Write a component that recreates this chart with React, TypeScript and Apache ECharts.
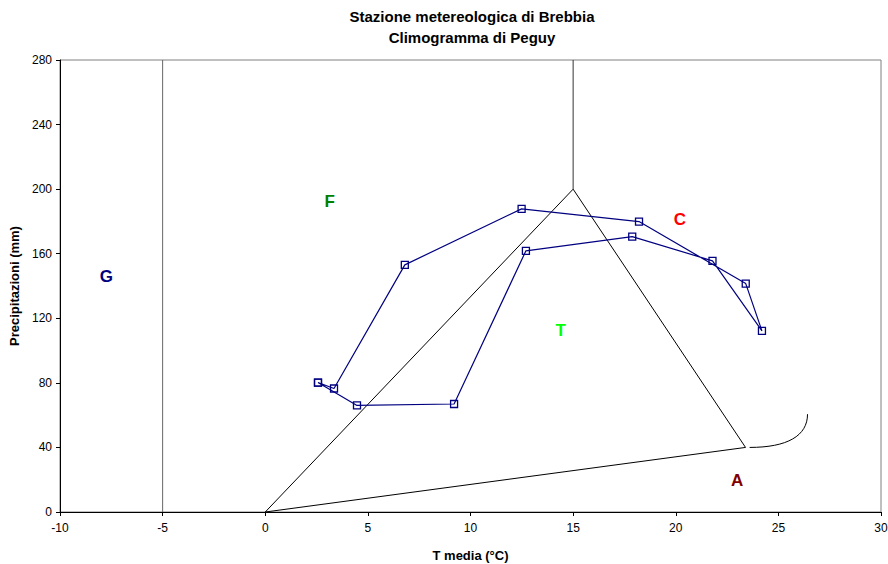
import React, { useEffect, useRef } from "react";
import * as echarts from "echarts";

// Monthly climate normals for Brebbia (Jan..Dec)
const months = ["Gen", "Feb", "Mar", "Apr", "Mag", "Giu", "Lug", "Ago", "Set", "Ott", "Nov", "Dic"];
const tempMedia = [2.57, 4.47, 9.2, 12.7, 17.88, 21.79, 24.2, 23.41, 18.21, 12.49, 6.8, 3.35];
const precipitazioni = [80.2, 66.0, 66.9, 161.8, 170.6, 155.6, 112.2, 141.5, 179.9, 187.8, 153.1, 76.5];

// Peguy triangle vertices (T, P)
const triangleT = [0, 15, 23.4, 0];
const triangleP = [0, 200, 40, 0];

// Boundary lines
const frostLineT = [-5, -5];
const frostLineP = [0, 280];
const hotLineT = [15, 15];
const hotLineP = [200, 280];

// Arid boundary curve: start, control 1, control 2, end
const aridCurveT = [23.6, 25.44, 26.42, 26.42];
const aridCurveP = [40, 40, 47.2, 60.6];

// Zone letters and where they sit in data space
const zoneNames = ["G", "F", "C", "T", "A"];
const zoneT = [-7.74, 3.14, 20.2, 14.4, 22.99];
const zoneP = [145.7, 192.1, 181, 112.2, 19.4];
const zoneColors: Record<string, string> = {
  G: "#000080",
  F: "#008000",
  C: "#ff0000",
  T: "#00ff00",
  A: "#800000",
};

const xTicks = { min: -10, max: 30, interval: 5 };
const yTicks = { min: 0, max: 280, interval: 40 };

const FONT = "'Liberation Sans', Arial, sans-serif";

export default function App() {
  const ref = useRef<HTMLDivElement>(null);

  useEffect(() => {
    if (!ref.current) return;
    const chart = echarts.init(ref.current, null, { renderer: "svg" });

    const loop = tempMedia.map((t, i) => [t, precipitazioni[i]]);
    loop.push(loop[0]);

    const pairs = (xs: number[], ys: number[]) => xs.map((x, i) => [x, ys[i]]);

    const plainLine = (data: number[][], color: string) => ({
      type: "line",
      data,
      symbol: "none",
      silent: true,
      lineStyle: { color, width: 1 },
      z: 2,
    });

    chart.setOption({
      animation: false,
      backgroundColor: "#ffffff",
      textStyle: { fontFamily: FONT },
      title: {
        text: "Stazione metereologica di Brebbia\nClimogramma di Peguy",
        left: 472,
        top: 6,
        padding: 0,
        textAlign: "center",
        textStyle: {
          fontFamily: FONT,
          fontSize: 15,
          fontWeight: "bold",
          color: "#000",
          lineHeight: 21,
        },
      },
      grid: {
        left: 60,
        right: 7,
        top: 60,
        bottom: 52,
        outerBoundsMode: "none",
        containLabel: false,
        show: true,
        borderColor: "#808080",
        borderWidth: 1,
        backgroundColor: "#ffffff",
      },
      xAxis: {
        type: "value",
        min: xTicks.min,
        max: xTicks.max,
        interval: xTicks.interval,
        name: "T media (°C)",
        nameLocation: "middle",
        nameGap: 37,
        nameTextStyle: { fontFamily: FONT, fontSize: 13, fontWeight: "bold", color: "#000" },
        axisLine: { show: true, onZero: false, lineStyle: { color: "#000", width: 1 } },
        axisTick: { show: true, length: 4, lineStyle: { color: "#000" } },
        axisLabel: { fontFamily: FONT, fontSize: 12, color: "#000", margin: 10 },
        splitLine: { show: false },
      },
      yAxis: {
        type: "value",
        min: yTicks.min,
        max: yTicks.max,
        interval: yTicks.interval,
        name: "Precipitazioni (mm)",
        nameLocation: "middle",
        nameGap: 34,
        nameTextStyle: { fontFamily: FONT, fontSize: 13, fontWeight: "bold", color: "#000" },
        axisLine: { show: true, onZero: false, lineStyle: { color: "#000", width: 1 } },
        axisTick: { show: true, length: 4, lineStyle: { color: "#000" } },
        axisLabel: { fontFamily: FONT, fontSize: 12, color: "#000", margin: 8 },
        splitLine: { show: false },
      },
      series: [
        plainLine(pairs(frostLineT, frostLineP), "#666666"),
        plainLine(pairs(hotLineT, hotLineP), "#333333"),
        plainLine(pairs(triangleT, triangleP), "#000000"),
        {
          type: "custom",
          silent: true,
          data: [[aridCurveT[0], aridCurveP[0]]],
          z: 2,
          renderItem: (_params: any, api: any) => {
            const p = aridCurveT.map((t, i) => api.coord([t, aridCurveP[i]]));
            return {
              type: "bezierCurve",
              shape: {
                x1: p[0][0],
                y1: p[0][1],
                cpx1: p[1][0],
                cpy1: p[1][1],
                cpx2: p[2][0],
                cpy2: p[2][1],
                x2: p[3][0],
                y2: p[3][1],
              },
              style: { stroke: "#000000", lineWidth: 1, fill: "none" },
            };
          },
        },
        {
          type: "line",
          name: "Brebbia",
          data: loop,
          symbol: "rect",
          symbolSize: 7,
          showAllSymbol: true,
          lineStyle: { color: "#000080", width: 1.2 },
          itemStyle: { color: "rgba(255,255,255,0)", borderColor: "#000080", borderWidth: 1.3 },
          z: 3,
        },
        {
          type: "scatter",
          silent: true,
          symbolSize: 1,
          itemStyle: { color: "rgba(0,0,0,0)" },
          data: zoneNames.map((n, i) => ({
            value: [zoneT[i], zoneP[i]],
            label: {
              show: true,
              position: "inside",
              formatter: n,
              fontFamily: FONT,
              fontSize: 17,
              fontWeight: "bold",
              color: zoneColors[n],
              textBorderWidth: 0,
              opacity: 1,
            },
          })),
          z: 4,
        },
      ],
    });

    return () => chart.dispose();
  }, []);

  return (
    <div
      ref={ref}
      style={{ position: "fixed", left: 0, top: 0, width: 888, height: 564, background: "#fff" }}
    />
  );
}
